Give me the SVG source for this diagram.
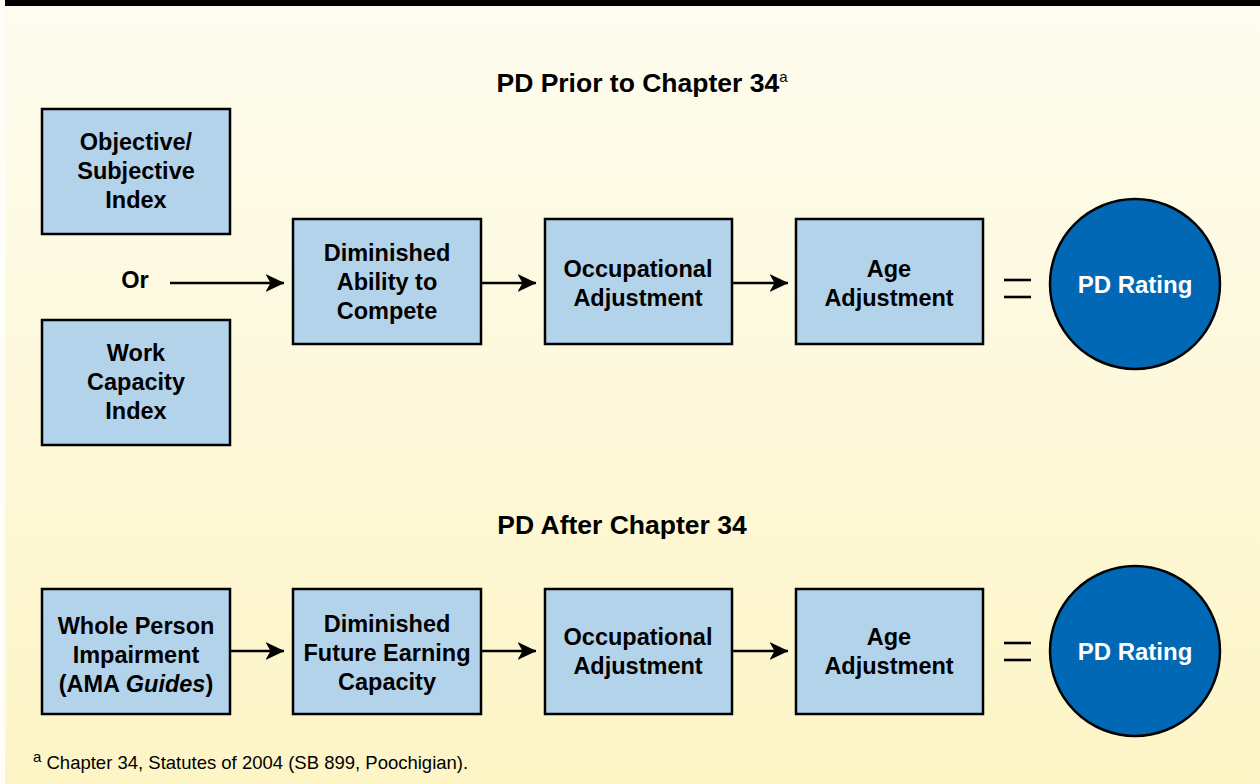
<svg xmlns="http://www.w3.org/2000/svg" width="1260" height="784" viewBox="0 0 1260 784">
<defs>
<linearGradient id="bg" x1="0" y1="0" x2="0" y2="1">
<stop offset="0" stop-color="#fefcf0"/>
<stop offset="1" stop-color="#fdf5c6"/>
</linearGradient>
<marker id="ah" viewBox="0 0 19 18" refX="18.5" refY="9" markerWidth="19" markerHeight="18" markerUnits="userSpaceOnUse" orient="auto">
<path d="M0,0 L19,9 L0,18 L5,9 Z" fill="#000"/>
</marker>
<style>
.box{fill:#b3d3ea;stroke:#000;stroke-width:2.5}
.circ{fill:#0068b4;stroke:#000;stroke-width:2.5}
.t{font-family:"Liberation Sans",Arial,sans-serif;font-weight:bold;font-size:23.5px;fill:#000;text-anchor:middle}
.w{fill:#fff;font-size:24px}
.title{font-family:"Liberation Sans",Arial,sans-serif;font-weight:bold;font-size:26.5px;fill:#000;text-anchor:middle}
.note{font-family:"Liberation Sans",Arial,sans-serif;font-size:18.5px;fill:#000}
.conn{stroke:#000;stroke-width:2.5;fill:none;marker-end:url(#ah)}
.eq{stroke:#000;stroke-width:2.6}
</style>
</defs>
<rect x="0" y="0" width="1260" height="784" fill="url(#bg)"/>
<rect x="0" y="0" width="5" height="784" fill="#fefdf7"/>
<rect x="5" y="0" width="1255" height="6" fill="#000"/>

<text class="title" x="642" y="92">PD Prior to Chapter 34<tspan font-weight="normal" font-size="15" dy="-10">a</tspan></text>
<text class="title" x="622" y="534">PD After Chapter 34</text>

<g id="n-objective">
<rect class="box" x="42" y="109" width="188" height="125"/>
<text class="t" x="136" y="150">Objective/</text>
<text class="t" x="136" y="179">Subjective</text>
<text class="t" x="136" y="208">Index</text>
</g>
<g id="n-or">
<text class="t" x="135" y="288">Or</text>
</g>
<g id="n-work">
<rect class="box" x="42" y="320" width="188" height="125"/>
<text class="t" x="136" y="361">Work</text>
<text class="t" x="136" y="390">Capacity</text>
<text class="t" x="136" y="419">Index</text>
</g>
<g id="n-dac">
<rect class="box" x="293" y="219" width="188" height="125"/>
<text class="t" x="387" y="261">Diminished</text>
<text class="t" x="387" y="290">Ability to</text>
<text class="t" x="387" y="319">Compete</text>
</g>
<g id="n-occ1">
<rect class="box" x="545" y="219" width="187" height="125"/>
<text class="t" x="638" y="277">Occupational</text>
<text class="t" x="638" y="306">Adjustment</text>
</g>
<g id="n-age1">
<rect class="box" x="796" y="219" width="187" height="125"/>
<text class="t" x="889" y="277">Age</text>
<text class="t" x="889" y="306">Adjustment</text>
</g>
<g id="n-pd1">
<circle class="circ" cx="1135" cy="284" r="85"/>
<text class="t w" x="1135" y="293">PD Rating</text>
</g>

<g id="n-wpi">
<rect class="box" x="42" y="589" width="188" height="125"/>
<text class="t" x="136" y="634">Whole Person</text>
<text class="t" x="136" y="663">Impairment</text>
<text class="t" x="136" y="692">(AMA <tspan font-style="italic">Guides</tspan>)</text>
</g>
<g id="n-dfec">
<rect class="box" x="293" y="589" width="188" height="125"/>
<text class="t" x="387" y="632">Diminished</text>
<text class="t" x="387" y="661">Future Earning</text>
<text class="t" x="387" y="690">Capacity</text>
</g>
<g id="n-occ2">
<rect class="box" x="545" y="589" width="187" height="125"/>
<text class="t" x="638" y="645">Occupational</text>
<text class="t" x="638" y="674">Adjustment</text>
</g>
<g id="n-age2">
<rect class="box" x="796" y="589" width="187" height="125"/>
<text class="t" x="889" y="645">Age</text>
<text class="t" x="889" y="674">Adjustment</text>
</g>
<g id="n-pd2">
<circle class="circ" cx="1135" cy="651" r="85"/>
<text class="t w" x="1135" y="660">PD Rating</text>
</g>

<g id="connectors">
<line class="conn" x1="170" y1="283" x2="284" y2="283"/>
<line class="conn" x1="481" y1="283" x2="536" y2="283"/>
<line class="conn" x1="732" y1="283" x2="788" y2="283"/>
<line class="conn" x1="230" y1="651" x2="284" y2="651"/>
<line class="conn" x1="481" y1="651" x2="536" y2="651"/>
<line class="conn" x1="732" y1="651" x2="788" y2="651"/>
<line class="eq" x1="1004" y1="280" x2="1031" y2="280"/>
<line class="eq" x1="1004" y1="297" x2="1031" y2="297"/>
<line class="eq" x1="1004" y1="643" x2="1031" y2="643"/>
<line class="eq" x1="1004" y1="660" x2="1031" y2="660"/>
</g>

<text class="note" x="33" y="769"><tspan font-size="15" dy="-7">a</tspan><tspan dy="7"> Chapter 34, Statutes of 2004 (SB 899, Poochigian).</tspan></text>
</svg>
